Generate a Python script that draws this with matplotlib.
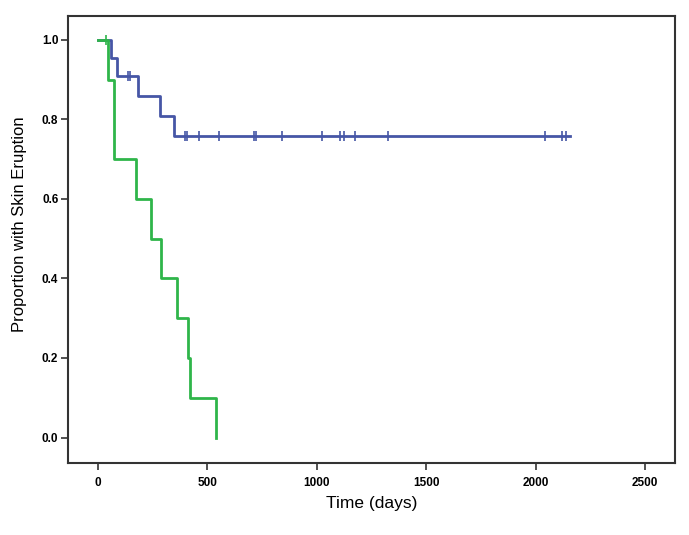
import numpy as np
import matplotlib
matplotlib.use('Agg')
from matplotlib import pyplot as plt

# Kaplan-Meier steps (time in days, proportion)
blue_times = [0, 58, 89, 181, 283, 347]
blue_surv = [1.0, 0.955, 0.909, 0.859, 0.809, 0.758]
blue_censor = [139, 146, 398, 405, 463, 551, 714, 723, 842, 1022, 1106, 1126,
               1175, 1324, 2043, 2122, 2140]
blue_end = 2155

green_times = [0, 47, 75, 172, 241, 290, 359, 412, 420, 539]
green_surv = [1.0, 0.9, 0.7, 0.6, 0.5, 0.4, 0.3, 0.2, 0.1, 0.0]
green_censor = [38]

x_ticks = [0, 500, 1000, 1500, 2000, 2500]
y_ticks = [0.0, 0.2, 0.4, 0.6, 0.8, 1.0]

BLUE = '#4656a6'
GREEN = '#2fb54a'
SPINE = '#333333'


def surv_at(times, surv, t):
    idx = np.searchsorted(times, t, side='right') - 1
    return np.array(surv)[idx]


def main():
    plt.rcParams['font.family'] = ['Liberation Sans', 'DejaVu Sans']
    fig = plt.figure(figsize=(6.89, 5.35), dpi=100)
    ax = fig.add_axes([0.0987, 0.1346, 0.881, 0.835])

    # blue group
    bt = blue_times + [blue_end]
    bs = blue_surv + [blue_surv[-1]]
    ax.step(bt, bs, where='post', color=BLUE, lw=2)
    ax.plot(blue_censor, surv_at(blue_times, blue_surv, blue_censor), ls='none',
            marker='|', ms=7, mew=1.2, color=BLUE)

    # green group
    ax.step(green_times, green_surv, where='post', color=GREEN, lw=2)
    ax.plot(green_censor, surv_at(green_times, green_surv, green_censor), ls='none',
            marker='|', ms=7, mew=1.2, color=GREEN)

    ax.set_xlim(-137, 2637)
    ax.set_ylim(-0.064, 1.059)
    ax.set_xticks(x_ticks)
    ax.set_yticks(y_ticks)
    ax.set_xticklabels([str(t) for t in x_ticks], fontsize=8.5, fontweight='bold')
    ax.set_yticklabels(['%.1f' % t for t in y_ticks], fontsize=8.5, fontweight='bold')
    ax.tick_params(direction='out', length=5, width=1.2, color=SPINE)
    ax.tick_params(axis='y', pad=2)
    ax.tick_params(axis='x', pad=5)
    for sp in ax.spines.values():
        sp.set_color(SPINE)
        sp.set_linewidth(1.5)

    ax.set_xlabel("Time (days)", fontsize=12.5, labelpad=5)
    ax.set_ylabel("Proportion with Skin Eruption", fontsize=12)
    ax.yaxis.set_label_coords(-0.068, 0.534)

    fig.savefig('out.png', dpi=100)


if __name__ == '__main__':
    main()
